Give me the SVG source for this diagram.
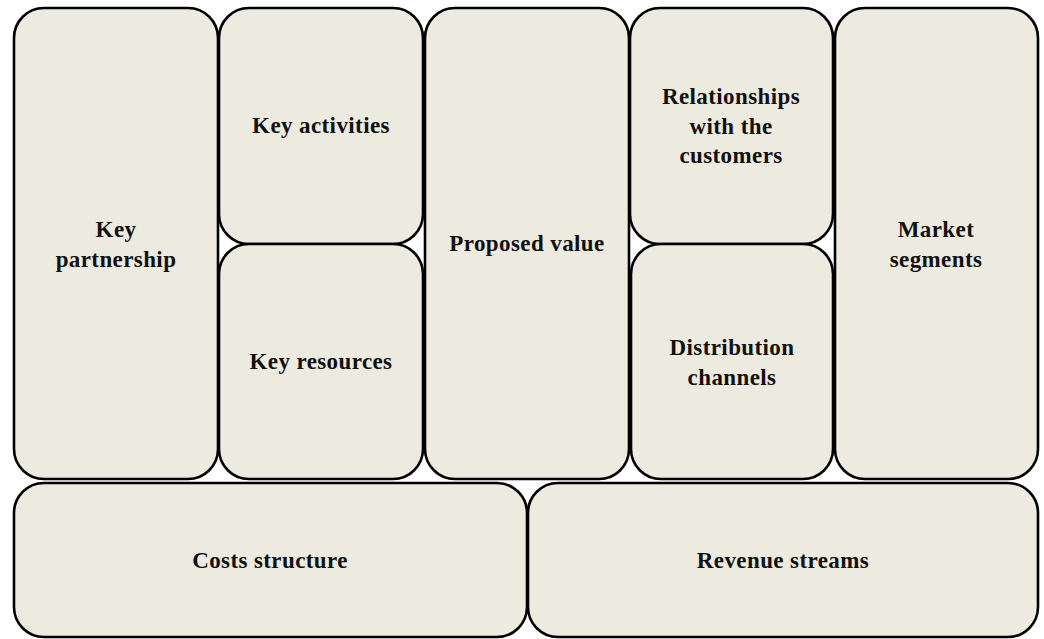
<svg xmlns="http://www.w3.org/2000/svg" width="1044" height="639" viewBox="0 0 1044 639">
<style>
.b{fill:#EDEBE0;stroke:#000;stroke-width:2.6}
.t{font-family:"Liberation Serif",serif;font-weight:bold;font-size:23px;letter-spacing:0.4px;fill:#111;text-anchor:middle}
</style>
<rect width="1044" height="639" fill="#fff"/>
<g id="key-partnership"><rect class="b" x="14" y="8" width="204" height="471" rx="30"/><text class="t" x="116" y="237">Key</text><text class="t" x="116" y="267">partnership</text></g>
<g id="key-activities"><rect class="b" x="219" y="8" width="204" height="236" rx="30"/><text class="t" x="321" y="133">Key activities</text></g>
<g id="key-resources"><rect class="b" x="219" y="244" width="204" height="235" rx="30"/><text class="t" x="321" y="369">Key resources</text></g>
<g id="proposed-value"><rect class="b" x="425" y="8" width="204" height="471" rx="30"/><text class="t" x="527" y="251">Proposed value</text></g>
<g id="relationships"><rect class="b" x="630" y="8" width="203" height="236" rx="30"/><text class="t" x="731" y="104">Relationships</text><text class="t" x="731" y="134">with the</text><text class="t" x="731" y="163">customers</text></g>
<g id="distribution"><rect class="b" x="631" y="244" width="202" height="235" rx="30"/><text class="t" x="732" y="355">Distribution</text><text class="t" x="732" y="385">channels</text></g>
<g id="market-segments"><rect class="b" x="835" y="8" width="203" height="471" rx="30"/><text class="t" x="936" y="237">Market</text><text class="t" x="936" y="267">segments</text></g>
<g id="costs"><rect class="b" x="14" y="483" width="513" height="154" rx="30"/><text class="t" x="270" y="568">Costs structure</text></g>
<g id="revenue"><rect class="b" x="528" y="483" width="510" height="154" rx="30"/><text class="t" x="783" y="568">Revenue streams</text></g>
<g id="connectors"/>
</svg>
